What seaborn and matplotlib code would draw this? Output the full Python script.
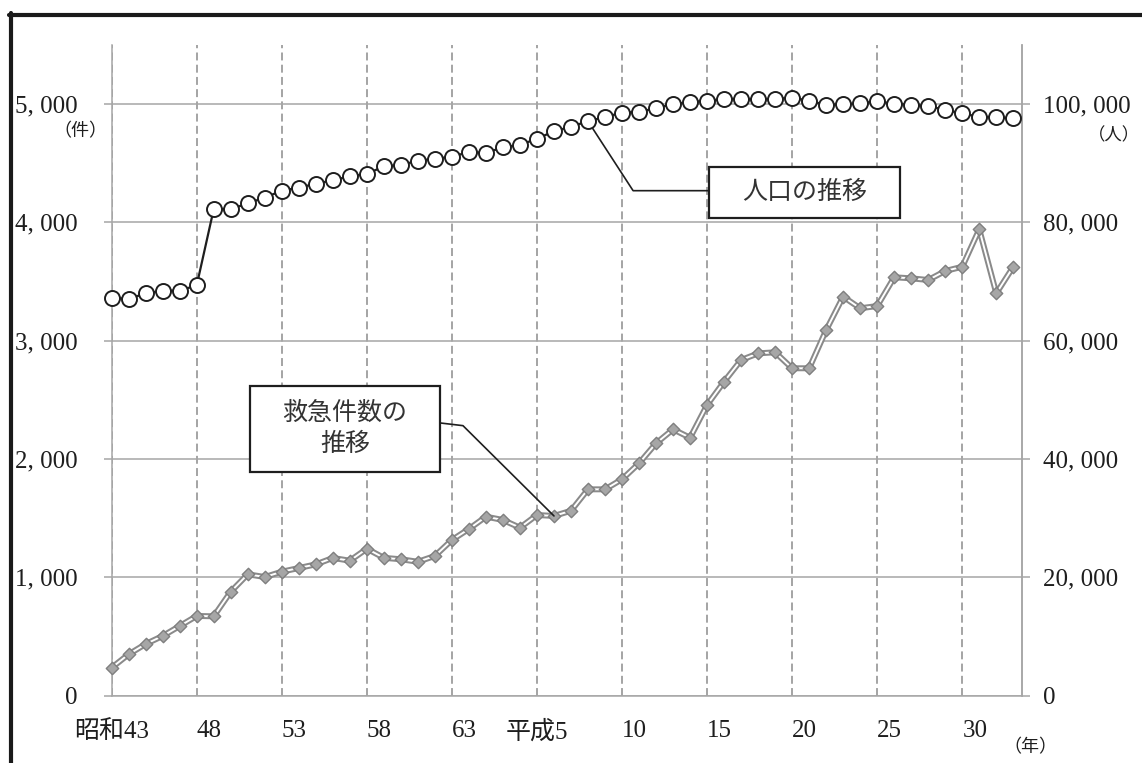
import matplotlib
matplotlib.use("Agg")
import matplotlib.pyplot as plt
import seaborn as sns
import pandas as pd
from matplotlib.patches import Rectangle
from matplotlib.lines import Line2D

# 年（西暦）: 昭和43年〜令和3年
years = list(range(1968, 2022))

# 救急件数（件）
calls = [237, 350, 437, 505, 589, 674, 671, 879, 1026, 1003,
         1048, 1079, 1110, 1164, 1141, 1242, 1165, 1153, 1132, 1181,
         1316, 1409, 1513, 1485, 1420, 1527, 1519, 1563, 1744, 1744,
         1829, 1964, 2133, 2251, 2180, 2457, 2654, 2837, 2893, 2902,
         2767, 2767, 3090, 3372, 3274, 3293, 3536, 3527, 3513, 3589,
         3625, 3941, 3400, 3625]

# 人口（人）
population = [67250, 67050, 68010, 68450, 68450, 69370, 82260, 82210, 83230, 84170,
              85360, 85860, 86540, 87110, 87790, 88180, 89470, 89700, 90420, 90760,
              91100, 91890, 91730, 92690, 93080, 94140, 95390, 96170, 97090, 97810,
              98540, 98650, 99330, 99960, 100350, 100520, 100900, 100800, 100800, 100850,
              101070, 100570, 99840, 99960, 100120, 100460, 100060, 99840, 99670, 98990,
              98440, 97810, 97760, 97590]

tick_years = [1968, 1973, 1978, 1983, 1988, 1993, 1998, 2003, 2008, 2013, 2018]
tick_labels = ["昭和43", "48", "53", "58", "63", "平成5", "10", "15", "20", "25", "30"]

calls_ticks = [0, 1000, 2000, 3000, 4000, 5000]
pop_ticks = [0, 20000, 40000, 60000, 80000, 100000]

sns.set_theme(style="white")
plt.rcParams["font.family"] = ["Liberation Serif", "Noto Sans CJK JP"]
plt.rcParams["axes.unicode_minus"] = False

TEXT = "#1e1e1e"
GRID = "#a6a6a6"
DASH = "#8c8c8c"

df = pd.DataFrame({"year": years, "calls": calls, "population": population})

fig = plt.figure(figsize=(11.42, 7.63), dpi=100)
ax = fig.add_axes([0.0978, 0.0882, 0.7974, 0.853])
ax2 = ax.twinx()

# 救急件数: 二重線（灰色の外線 + 白の芯）と灰色のひし形マーカー
sns.lineplot(data=df, x="year", y="calls", ax=ax, color="#8a8a8a", lw=4.3,
             zorder=3, clip_on=False)
sns.lineplot(data=df, x="year", y="calls", ax=ax, color="white", lw=1.4,
             zorder=4, clip_on=False)
sns.scatterplot(data=df, x="year", y="calls", ax=ax, marker="D", s=40,
                color="#a6a6a6", edgecolor="#7f7f7f", linewidth=1.0,
                zorder=5, clip_on=False)

# 人口: 黒線と白抜きの丸マーカー
sns.lineplot(data=df, x="year", y="population", ax=ax2, color="#1e1e1e", lw=1.6,
             marker="o", markersize=10.8, markerfacecolor="white",
             markeredgecolor="#1e1e1e", markeredgewidth=1.4,
             zorder=5, clip_on=False)

# 軸範囲
ax.set_xlim(years[0], years[0] + 53.53)
ax.set_ylim(0, 5500)
ax2.set_ylim(0, 110000)

# 目盛り
ax.set_xticks(tick_years)
ax.set_xticklabels(tick_labels)
for lab in ax.get_xticklabels():
    lab.set_horizontalalignment("center" if lab.get_text()[0] in "昭平" else "left")

ax.set_yticks(calls_ticks)
ax.set_yticklabels([f"{v:,}".replace(",", ", ") for v in calls_ticks])
ax2.set_yticks(pop_ticks)
ax2.set_yticklabels([f"{v:,}".replace(",", ", ") for v in pop_ticks])

ax.tick_params(axis="x", length=0, pad=17.5, labelsize=18, labelcolor=TEXT, bottom=False)
ax.tick_params(axis="y", direction="out", length=5.5, width=1.1, color=GRID,
               pad=19, labelsize=18, labelcolor=TEXT, left=True)
ax2.tick_params(axis="y", direction="out", length=6, width=1.1, color=GRID,
                pad=9, labelsize=18, labelcolor=TEXT, right=True)

ax.set_xlabel("")
ax.set_ylabel("")
ax2.set_ylabel("")

# グリッド: 横は実線、5年ごとの縦は破線
ax.grid(axis="y", color=GRID, lw=1.1)
ax.grid(axis="x", color=DASH, lw=1.1, linestyle=(0, (5.2, 2.8)))
ax.set_axisbelow(True)

for name in ["left", "bottom", "right"]:
    ax.spines[name].set_color(GRID)
    ax.spines[name].set_linewidth(1.1)
ax.spines["top"].set_visible(False)
for name in ["left", "bottom", "top"]:
    ax2.spines[name].set_visible(False)
ax2.spines["right"].set_color(GRID)
ax2.spines["right"].set_linewidth(1.1)

# 単位
fig.text(80 / 1142, 1 - 132 / 763, "（件）", ha="center", va="center",
         fontsize=13, color=TEXT)
fig.text(1114 / 1142, 1 - 136 / 763, "（人）", ha="center", va="center",
         fontsize=12.5, color=TEXT)
fig.text(1030 / 1142, 1 - 748 / 763, "（年）", ha="center", va="center",
         fontsize=13, color=TEXT)

# 吹き出し: 救急件数の推移
box1 = Rectangle((years[0] + 8.13, 1893), 11.17, 727, facecolor="white",
                 edgecolor="#1e1e1e", lw=1.6, zorder=6)
ax.add_patch(box1)
ax.text(years[0] + 13.72, 2256, "救急件数の\n推移", ha="center", va="center",
        multialignment="center", linespacing=1.45, fontsize=18, color="#333333",
        zorder=7)
ax.add_line(Line2D([years[0] + 19.30, years[0] + 20.65, years[26]],
                   [2305, 2282, calls[26]], color="#1e1e1e", lw=1.2, zorder=6))

# 吹き出し: 人口の推移
box2 = Rectangle((years[0] + 35.12, 80800), 11.23, 8600, facecolor="white",
                 edgecolor="#1e1e1e", lw=1.6, zorder=6)
ax2.add_patch(box2)
ax2.text(years[0] + 40.71, 85135, "人口の推移", ha="center", va="center",
         fontsize=18, color="#333333", zorder=7)
ax2.add_line(Line2D([years[0] + 35.12, years[0] + 30.65, years[28]],
                    [85355, 85355, population[28]], color="#1e1e1e", lw=1.2, zorder=4))

# 外枠（上辺と左辺）
fig.add_artist(Line2D([9 / 1142, 1.0], [1 - 15 / 763, 1 - 15 / 763],
                      color="#1a1a1a", lw=3.0, transform=fig.transFigure))
fig.add_artist(Line2D([11 / 1142, 11 / 1142], [0.0, 1 - 13 / 763],
                      color="#1a1a1a", lw=3.0, transform=fig.transFigure))

fig.savefig("out.png", dpi=100)
